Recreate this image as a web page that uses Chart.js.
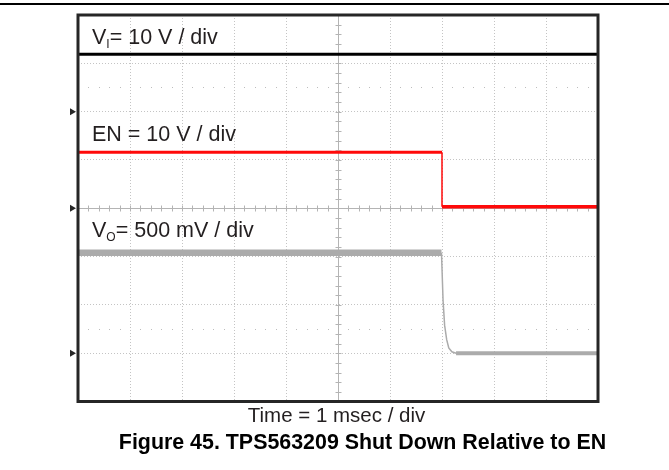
<!DOCTYPE html>
<html>
<head>
  <title>TPS563209 Shut Down Relative to EN</title>
  <script src="https://cdn.jsdelivr.net/npm/chart.js"></script>
  <style>
    body { margin: 0; background: #fff; font-family: Arial, "Liberation Sans", sans-serif; }
    #wrap { position: relative; width: 669px; height: 470px; overflow: hidden; }
    #scope { position: absolute; left: 0; top: 0; }
    #topRule { position: absolute; left: 0; top: 3px; width: 669px; height: 2px; background: #000; }
    .lbl { position: absolute; left: 92px; font-size: 21.5px; line-height: 20px; color: #231f20; white-space: nowrap; }
    .lbl sub { font-size: 12px; line-height: 0; vertical-align: baseline; position: relative; top: 4px; }
    .cap { position: absolute; left: 0; width: 669px; text-align: center; line-height: 20px; color: #231f20; white-space: nowrap; box-sizing: border-box; }
    #timeCap { font-size: 20.5px; top: 405px; padding-left: 4px; }
    #figCap { font-size: 21.4px; font-weight: bold; top: 432px; color: #000; padding-left: 56px; }
  </style>
</head>
<body>
  <div id="wrap">
    <canvas id="scope" width="669" height="470"></canvas>
    <div id="topRule"></div>
    <div class="lbl" style="top:26.5px">V<sub>I</sub>= 10 V / div</div>
    <div class="lbl" style="top:123.5px">EN = 10 V / div</div>
    <div class="lbl" style="top:219.5px">V<sub>O</sub>= 500 mV / div</div>
    <div class="cap" id="timeCap">Time = 1 msec / div</div>
    <div class="cap" id="figCap">Figure 45. TPS563209 Shut Down Relative to EN</div>
  </div>

  <script>
    // captured waveforms, time in ms from left edge of screen, values in volts
    const viTimeMs = [0, 10];
    const viVolts = [11.9, 11.9];

    const enTimeMs = [0, 7.0, 7.0, 10];
    const enVolts = [11.6, 11.6, 0.3, 0.3];

    const voTimeMs = [0, 6.99, 7.02, 7.05, 7.09, 7.13, 7.19, 7.27, 10];
    const voVolts = [1.04, 1.04, 0.55, 0.29, 0.14, 0.055, 0.015, 0.0, 0.0];

    // scope setup: V/div and ground reference (in divisions from bottom) per channel
    const voltsPerDiv = [10, 10, 0.5];
    const groundDiv = [6, 4, 1];
    const traceColors = ['#000000', '#ff0a0a', '#ababab'];
    const traceWidths = [3, 3, 6.5];
    const settledWidths = [3, 3.5, 4];

    const H_DIVS = 10, V_DIVS = 8;
    const dottedRows = [6.5, 1.5];

    function toScreen(times, volts, ch) {
      return times.map((t, i) => ({ x: t, y: groundDiv[ch] + volts[i] / voltsPerDiv[ch] }));
    }

    const scopeDecor = {
      id: 'scopeDecor',
      beforeDatasetsDraw(chart) {
        const { ctx, chartArea: a, scales: { x, y } } = chart;
        ctx.save();
        // faint dotted rows
        ctx.fillStyle = '#bdbdbd';
        dottedRows.forEach(d => {
          const py = Math.round(y.getPixelForValue(d));
          for (let t = 0.2; t < H_DIVS; t += 0.2) {
            if (Math.abs(t - Math.round(t)) < 0.01) continue;
            ctx.fillRect(Math.round(x.getPixelForValue(t)), py, 1, 1);
          }
        });
        // center axes with minor ticks
        ctx.strokeStyle = '#b4b4b4';
        ctx.lineWidth = 1;
        const cy = Math.round(y.getPixelForValue(V_DIVS / 2)) + 0.5;
        const cx = Math.round(x.getPixelForValue(H_DIVS / 2)) + 0.5;
        ctx.beginPath();
        ctx.moveTo(a.left, cy); ctx.lineTo(a.right, cy);
        ctx.moveTo(cx, a.top); ctx.lineTo(cx, a.bottom);
        for (let t = 0.2; t < H_DIVS; t += 0.2) {
          const px = Math.round(x.getPixelForValue(t)) + 0.5;
          ctx.moveTo(px, cy - 3); ctx.lineTo(px, cy + 3);
        }
        for (let d = 0.2; d < V_DIVS; d += 0.2) {
          const py = Math.round(y.getPixelForValue(d)) + 0.5;
          ctx.moveTo(cx - 3, py); ctx.lineTo(cx + 3, py);
        }
        ctx.stroke();
        ctx.restore();
      },
      afterDatasetsDraw(chart) {
        const { ctx, chartArea: a, scales: { y } } = chart;
        ctx.save();
        ctx.strokeStyle = '#262626';
        ctx.lineWidth = 3;
        ctx.strokeRect(a.left, a.top, a.right - a.left, a.bottom - a.top);
        // channel ground markers
        ctx.fillStyle = '#262626';
        groundDiv.forEach(g => {
          const py = y.getPixelForValue(g);
          ctx.beginPath();
          ctx.moveTo(a.left - 2, py);
          ctx.lineTo(a.left - 8, py - 3.5);
          ctx.lineTo(a.left - 8, py + 3.5);
          ctx.closePath();
          ctx.fill();
        });
        ctx.restore();
      }
    };

    const series = [
      toScreen(viTimeMs, viVolts, 0),
      toScreen(enTimeMs, enVolts, 1),
      toScreen(voTimeMs, voVolts, 2)
    ];

    new Chart(document.getElementById('scope'), {
      type: 'line',
      data: {
        datasets: series.map((pts, ch) => ({
          data: pts,
          borderColor: traceColors[ch],
          borderWidth: traceWidths[ch],
          pointRadius: 0,
          tension: 0,
          fill: false,
          segment: {
            borderWidth: c => {
              if (c.p0.parsed.y !== c.p1.parsed.y) return 1.5;
              if (c.p1DataIndex === pts.length - 1 && c.p0DataIndex > 0) return settledWidths[ch];
              return undefined;
            }
          }
        })).reverse()
      },
      options: {
        responsive: false,
        animation: false,
        events: [],
        layout: { padding: { left: 78, top: 15, right: 71, bottom: 68.5 } },
        plugins: { legend: { display: false }, tooltip: { enabled: false } },
        scales: {
          x: {
            type: 'linear', min: 0, max: H_DIVS,
            ticks: { display: false, stepSize: 1 },
            grid: { color: '#c4c4c4', lineWidth: 1, drawTicks: false },
            border: { display: false, dash: [1, 2] }
          },
          y: {
            type: 'linear', min: 0, max: V_DIVS,
            ticks: { display: false, stepSize: 1 },
            grid: { color: '#c4c4c4', lineWidth: 1, drawTicks: false },
            border: { display: false, dash: [1, 2] }
          }
        }
      },
      plugins: [scopeDecor]
    });
  </script>
</body>
</html>
